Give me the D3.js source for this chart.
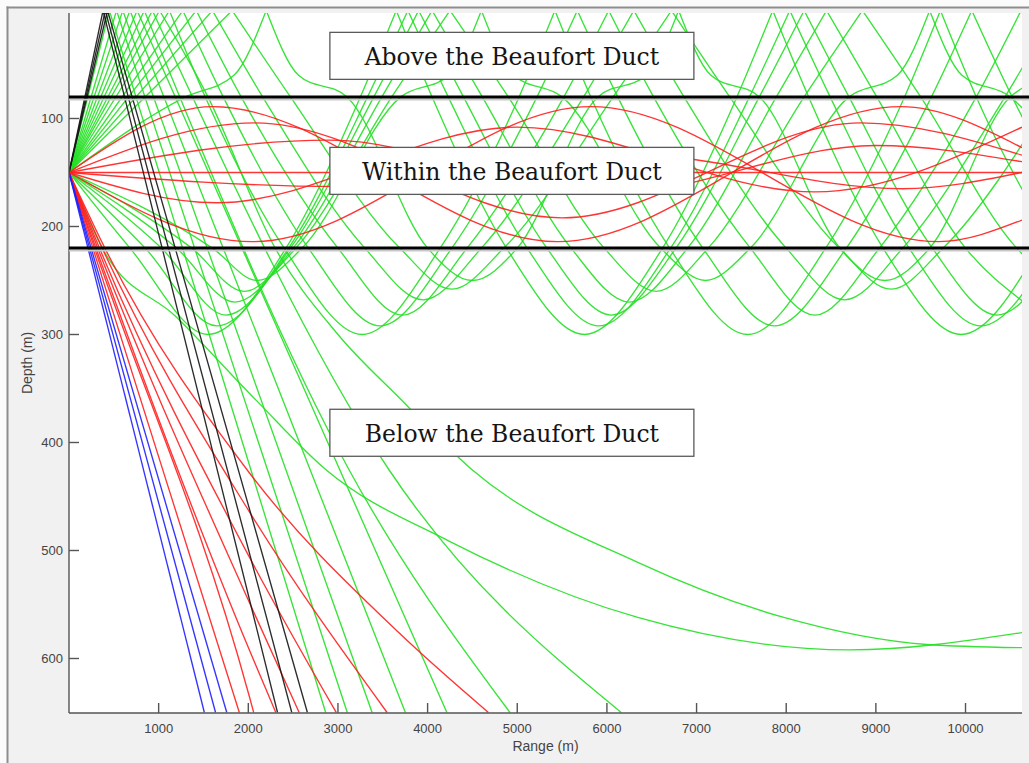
<!DOCTYPE html>
<html>
<head>
<meta charset="utf-8">
<script src="https://cdn.jsdelivr.net/npm/d3@7"></script>
<style>
  html, body { margin: 0; padding: 0; background: #fbfbfb; }
  svg { display: block; }
</style>
</head>
<body>
<svg id="chart" width="1029" height="763"></svg>
<script>
// Ray paths as [range (m), depth (m)] pairs. A depth of 0 is a surface reflection.
// Source sits at 150 m depth, range 0.

// steepest upward launches: reflect near the source and head for the bottom
const blackRays = [
  [[0,150],[380,0],[2326,650]],
  [[0,150],[405,0],[2485,650]],
  [[0,150],[430,0],[2659,650]]
];

// steepest downward launches
const blueRays = [
  [[0,150],[1510,650]],
  [[0,150],[1635,650]],
  [[0,150],[1760,650]]
];

// downward launches that leave the duct and reach the bottom
const redDeepRays = [
  [[0,150],[266,220],[1900,650]],
  [[0,150],[285,220],[2011,635],[2060,650]],
  [[0,150],[300,220],[2011,592],[2307,650]],
  [[0,150],[320,220],[2011,548],[2567,650]],
  [[0,150],[340,220],[2011,506],[2981,650]],
  [[0,150],[370,220],[2011,464],[3548,650]],
  [[0,150],[400,220],[2011,428],[3678,576],[4678,650]]
];

// surface-reflected and deep-refracted launches
const greenDeepRays = [
  [[0,150],[450,0],[2863,650]],
  [[0,150],[530,0],[3104,650]],
  [[0,150],[600,0],[3381,650]],
  [[0,150],[680,0],[3752,650]],
  [[0,150],[760,0],[4215,650]],
  [[0,150],[840,0],[3122,425],[4919,650]],
  [[0,150],[930,0],[3567,425],[6159,650]],
  [[0,150],[1010,0],[1550,80],[2300,220],[3000,300],[3700,360],[4493,425],[6344,511],[7974,562],[9567,587],[10630,590]],
  [[0,150],[378,221],[1200,284],[2089,361],[2863,425],[4233,491],[6344,562],[8711,592],[10630,576]]
];

// upward launches cycling between the surface and a turning depth below the duct
const greenUpCycles = [
  [[0,150],[1120,0],[1520,80],[2400,220],[3270,300],[4140,220],[5020,80],[5420,0],[5820,80],[6700,220],[7570,300],[8440,220],[9320,80],[9720,0],[10120,80],[11000,220]],
  [[0,150],[1270,0],[1720,80],[2670,220],[3470,292],[4270,220],[5220,80],[5670,0],[6120,80],[7070,220],[7870,292],[8670,220],[9620,80],[10070,0],[10520,80],[11470,220]],
  [[0,150],[1420,0],[1920,80],[3000,220],[3720,282],[4440,220],[5520,80],[6020,0],[6520,80],[7600,220],[8320,282],[9040,220],[10120,80],[10620,0],[11120,80]],
  [[0,150],[1600,0],[2160,80],[3300,220],[3950,268],[4600,220],[5740,80],[6300,0],[6860,80],[8000,220],[8650,268],[9300,220],[10440,80],[11000,0]],
  [[0,150],[1820,0],[2470,80],[3690,220],[4270,258],[4850,220],[6070,80],[6720,0],[7370,80],[8590,220],[9170,258],[9750,220],[10970,80]],
  [[0,150],[1300,80],[1840,60],[2200,0],[2560,60],[3100,80],[4000,220],[4500,250],[5000,220],[5900,80],[6440,60],[6800,0],[7160,60],[7700,80],[8600,220],[9100,250],[9600,220],[10500,80],[11040,60]]
];

// downward launches cycling between a turning depth below the duct and the surface
const greenDownCycles = [
  [[0,150],[680,220],[1550,300],[2420,220],[3250,80],[3650,0],[4050,80],[4880,220],[5750,300],[6620,220],[7450,80],[7850,0],[8250,80],[9080,220],[9950,300],[10820,220]],
  [[0,150],[850,220],[1650,292],[2450,220],[3330,80],[3780,0],[4230,80],[5110,220],[5910,292],[6710,220],[7590,80],[8040,0],[8490,80],[9370,220],[10170,292],[10970,220]],
  [[0,150],[1030,220],[1750,282],[2470,220],[3400,80],[3900,0],[4400,80],[5330,220],[6050,282],[6770,220],[7700,80],[8200,0],[8700,80],[9630,220],[10350,282],[11070,220]],
  [[0,150],[1200,220],[1850,270],[2500,220],[3490,80],[4050,0],[4610,80],[5600,220],[6250,270],[6900,220],[7890,80],[8450,0],[9010,80],[10000,220],[10650,270]],
  [[0,150],[1370,220],[1950,260],[2530,220],[3600,80],[4250,0],[4900,80],[5970,220],[6550,260],[7130,220],[8200,80],[8850,0],[9500,80],[10570,220],[11150,260]],
  [[0,150],[1600,220],[2100,250],[2600,220],[3700,80],[4240,60],[4600,0],[4960,60],[5500,80],[6600,220],[7100,250],[7600,220],[8700,80],[9240,60],[9600,0],[9960,60],[10500,80],[11600,220]]
];

// shallow launches trapped inside the duct
const ductRays = [
  [[0,150],[10630,150]],
  [[0,150],[1600,89],[5450,214],[9280,89],[10630,127]],
  [[0,150],[2044,214],[5822,89],[9700,214],[10630,194]],
  [[0,150],[2074,104],[5500,192],[8833,104],[10630,134]],
  [[0,150],[1650,178],[5000,108],[8322,168],[10630,108]],
  [[0,150],[2900,120],[6000,170],[9000,125],[10630,140]],
  [[0,150],[3000,163],[6200,133],[9300,165],[10630,150]]
];

const ductBounds = [80, 220];
const xTicks = [1000,2000,3000,4000,5000,6000,7000,8000,9000,10000];
const yTicks = [100,200,300,400,500,600];
const regionLabels = ["Above the Beaufort Duct", "Within the Beaufort Duct", "Below the Beaufort Duct"];

// ---- layout ----
const W = 1029, H = 763;
const plot = { left: 69, right: 1022, top: 13, bottom: 713 };
const labelCentreDepth = [42, 148.5, 391];  // vertical centres of the three region boxes
const labelCentreRange = 4940;

const svg = d3.select("#chart");

const x = d3.scaleLinear().domain([0, 10630]).range([plot.left, plot.right]);
const y = d3.scaleLinear().domain([0, 650]).range([10.5, 712.5]);

// figure background and frame
svg.append("rect").attr("x", 7).attr("y", 7).attr("width", W).attr("height", H).attr("fill", "#f1f1f1");
svg.append("line").attr("x1", 7.5).attr("x2", 7.5).attr("y1", 6.5).attr("y2", H)
  .attr("stroke", "#8e8e8e").attr("stroke-width", 2);
svg.append("line").attr("x1", 6.5).attr("x2", W).attr("y1", 7.5).attr("y2", 7.5)
  .attr("stroke", "#8e8e8e").attr("stroke-width", 2);

// plot area
svg.append("rect").attr("x", plot.left).attr("y", plot.top)
  .attr("width", plot.right - plot.left).attr("height", plot.bottom - plot.top)
  .attr("fill", "#ffffff");

svg.append("clipPath").attr("id", "plotClip").append("rect")
  .attr("x", plot.left).attr("y", plot.top)
  .attr("width", plot.right - plot.left).attr("height", plot.bottom - plot.top);

const line = d3.line().x(d => x(d[0])).y(d => y(d[1])).curve(d3.curveMonotoneX);

// split each ray at surface reflections so the bounce stays a sharp corner
function rayPath(pts) {
  const segs = [];
  let cur = [pts[0]];
  for (let i = 1; i < pts.length; i++) {
    cur.push(pts[i]);
    if (pts[i][1] === 0 && i < pts.length - 1) { segs.push(cur); cur = [pts[i]]; }
  }
  segs.push(cur);
  return segs.map(s => line(s)).join("");
}

const rayLayer = svg.append("g").attr("clip-path", "url(#plotClip)");

function drawRays(rays, colour) {
  rayLayer.append("g").selectAll("path").data(rays).join("path")
    .attr("d", rayPath)
    .attr("fill", "none")
    .attr("stroke", colour)
    .attr("stroke-width", 1.35)
    .attr("stroke-opacity", 0.9)
    .attr("stroke-linejoin", "round");
}

drawRays(greenDeepRays, "#22e022");
drawRays(greenUpCycles, "#22e022");
drawRays(greenDownCycles, "#22e022");
drawRays(redDeepRays, "#ff1e1e");
drawRays(ductRays, "#ff1e1e");
drawRays(blueRays, "#1e1eff");
drawRays(blackRays, "#151515");

// axes
const axisColour = "#555";
const yAxis = svg.append("g");
yAxis.append("line").attr("x1", plot.left).attr("x2", plot.left)
  .attr("y1", plot.top).attr("y2", plot.bottom).attr("stroke", axisColour).attr("stroke-width", 1.4);
yAxis.selectAll("line.tick").data(yTicks).join("line").attr("class", "tick")
  .attr("x1", plot.left).attr("x2", plot.left + 10)
  .attr("y1", d => y(d)).attr("y2", d => y(d))
  .attr("stroke", axisColour).attr("stroke-width", 1.4);
yAxis.selectAll("text").data(yTicks).join("text")
  .attr("x", plot.left - 6).attr("y", d => y(d))
  .attr("text-anchor", "end").attr("dominant-baseline", "central")
  .attr("font-family", "Liberation Sans, Arial, sans-serif").attr("font-size", 13)
  .attr("fill", "#444").text(d => d);

const xAxis = svg.append("g");
xAxis.append("line").attr("x1", plot.left).attr("x2", plot.right)
  .attr("y1", plot.bottom).attr("y2", plot.bottom).attr("stroke", axisColour).attr("stroke-width", 1.4);
xAxis.selectAll("line.tick").data(xTicks).join("line").attr("class", "tick")
  .attr("x1", d => x(d)).attr("x2", d => x(d))
  .attr("y1", plot.bottom).attr("y2", plot.bottom - 10)
  .attr("stroke", axisColour).attr("stroke-width", 1.4);
xAxis.selectAll("text").data(xTicks).join("text")
  .attr("x", d => x(d)).attr("y", plot.bottom + 15)
  .attr("text-anchor", "middle").attr("dominant-baseline", "central")
  .attr("font-family", "Liberation Sans, Arial, sans-serif").attr("font-size", 13)
  .attr("fill", "#444").text(d => d);

svg.append("text")
  .attr("x", (plot.left + plot.right) / 2).attr("y", plot.bottom + 33)
  .attr("text-anchor", "middle").attr("dominant-baseline", "central")
  .attr("font-family", "Liberation Sans, Arial, sans-serif").attr("font-size", 14)
  .attr("fill", "#444").text("Range (m)");

svg.append("text")
  .attr("transform", `translate(27,${(plot.top + plot.bottom) / 2}) rotate(-90)`)
  .attr("text-anchor", "middle").attr("dominant-baseline", "central")
  .attr("font-family", "Liberation Sans, Arial, sans-serif").attr("font-size", 14)
  .attr("fill", "#444").text("Depth (m)");

// duct boundaries, running past the axes to the figure edge
const bounds = svg.append("g");
bounds.selectAll("line.shade").data(ductBounds).join("line").attr("class", "shade")
  .attr("x1", plot.left).attr("x2", W)
  .attr("y1", d => y(d) + 2.5).attr("y2", d => y(d) + 2.5)
  .attr("stroke", "#c8c8c8").attr("stroke-width", 2);
bounds.selectAll("line.edge").data(ductBounds).join("line").attr("class", "edge")
  .attr("x1", plot.left).attr("x2", W)
  .attr("y1", d => y(d)).attr("y2", d => y(d))
  .attr("stroke", "#000").attr("stroke-width", 3);

// region labels
const boxW = 364, boxH = 47;
const labels = svg.append("g").selectAll("g").data(regionLabels).join("g")
  .attr("transform", (d, i) => `translate(${x(labelCentreRange)},${y(labelCentreDepth[i])})`);
labels.append("rect")
  .attr("x", -boxW / 2).attr("y", -boxH / 2).attr("width", boxW).attr("height", boxH)
  .attr("fill", "#fff").attr("stroke", "#5a5a5a").attr("stroke-width", 1.3);
labels.append("text")
  .attr("text-anchor", "middle").attr("dominant-baseline", "central")
  .attr("y", 1)
  .attr("font-family", "DejaVu Serif, serif").attr("font-size", 23.5)
  .attr("fill", "#151515").text(d => d);
</script>
</body>
</html>
